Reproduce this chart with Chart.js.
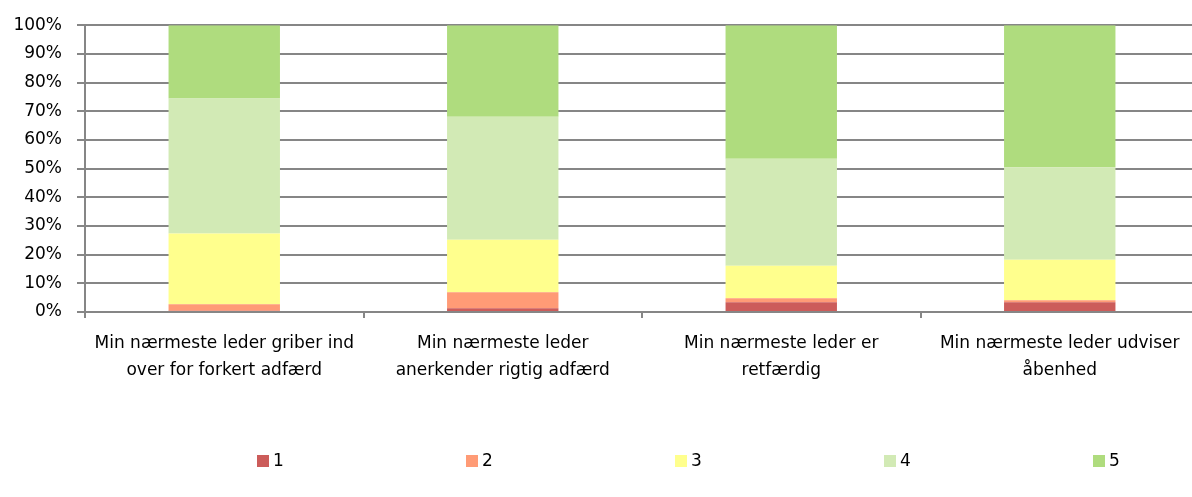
<!DOCTYPE html>
<html>
<head>
<meta charset="utf-8">
<script src="https://cdn.jsdelivr.net/npm/chart.js@4"></script>
<style>
  html, body { margin: 0; padding: 0; background: #fff; overflow: hidden; }
  #wrap { width: 1210px; height: 497px; }
</style>
</head>
<body>
<div id="wrap"><canvas id="chart"></canvas></div>
<script>
const categories = [
  ['Min nærmeste leder griber ind', 'over for forkert adfærd'],
  ['Min nærmeste leder', 'anerkender rigtig adfærd'],
  ['Min nærmeste leder er', 'retfærdig'],
  ['Min nærmeste leder udviser', 'åbenhed']
];

const seriesNames = ['1', '2', '3', '4', '5'];

const answer1 = [0.4, 1.3, 3.4, 3.4];
const answer2 = [2.3, 5.6, 1.4, 0.7];
const answer3 = [24.7, 18.3, 11.3, 14.1];
const answer4 = [47.0, 42.9, 37.3, 32.3];
const answer5 = [25.6, 31.9, 46.6, 49.5];

const colors = ['#cc5c5a', '#ff9b76', '#ffff8d', '#d2eab5', '#afdc7e'];

const FONT = 'DejaVu Sans';
const GRID = '#868686';

// legend drawn by hand so items can be spread out like the original
const spreadLegend = {
  id: 'spreadLegend',
  afterDraw(chart, args, opts) {
    const { ctx } = chart;
    ctx.save();
    ctx.font = opts.fontSize + 'px "' + FONT + '"';
    ctx.textBaseline = 'middle';
    chart.data.datasets.forEach((ds, i) => {
      const x = opts.x0 + i * opts.step;
      ctx.fillStyle = ds.backgroundColor;
      ctx.fillRect(x, opts.y - opts.box / 2, opts.box, opts.box);
      ctx.fillStyle = '#000';
      ctx.fillText(ds.label, x + opts.box + 4, opts.y + 1);
    });
    ctx.restore();
  }
};

const answers = [answer1, answer2, answer3, answer4, answer5];

new Chart(document.getElementById('chart'), {
  type: 'bar',
  plugins: [spreadLegend],
  data: {
    labels: categories,
    datasets: answers.map((values, i) => ({
      label: seriesNames[i],
      data: values,
      backgroundColor: colors[i],
      borderWidth: 0,
      barPercentage: 0.4,
      categoryPercentage: 1
    }))
  },
  options: {
    responsive: true,
    maintainAspectRatio: false,
    animation: false,
    layout: { padding: { left: 0, right: 11, top: 25, bottom: 0 } },
    plugins: {
      legend: { display: false },
      tooltip: { enabled: false },
      spreadLegend: { x0: 257, step: 209, y: 461, box: 12, fontSize: 17 }
    },
    scales: {
      x: {
        stacked: true,
        grid: {
          offset: true,
          drawOnChartArea: false,
          drawTicks: true,
          tickLength: 6,
          color: GRID,
          lineWidth: 2
        },
        border: { display: true, color: GRID, width: 2 },
        ticks: {
          color: '#000',
          padding: 12,
          maxRotation: 0,
          autoSkip: false,
          font: { family: FONT, size: 17, lineHeight: '27px' }
        },
        afterFit(scale) { scale.height = 185; }
      },
      y: {
        stacked: true,
        min: 0,
        max: 100,
        grid: {
          color: GRID,
          lineWidth: 2,
          drawTicks: true,
          tickLength: 8
        },
        border: { display: true, color: GRID, width: 2 },
        ticks: {
          stepSize: 10,
          color: '#000',
          padding: 15,
          font: { family: FONT, size: 17 },
          callback: v => v + '%'
        },
        afterFit(scale) { scale.width = 85; }
      }
    }
  }
});
</script>
</body>
</html>
